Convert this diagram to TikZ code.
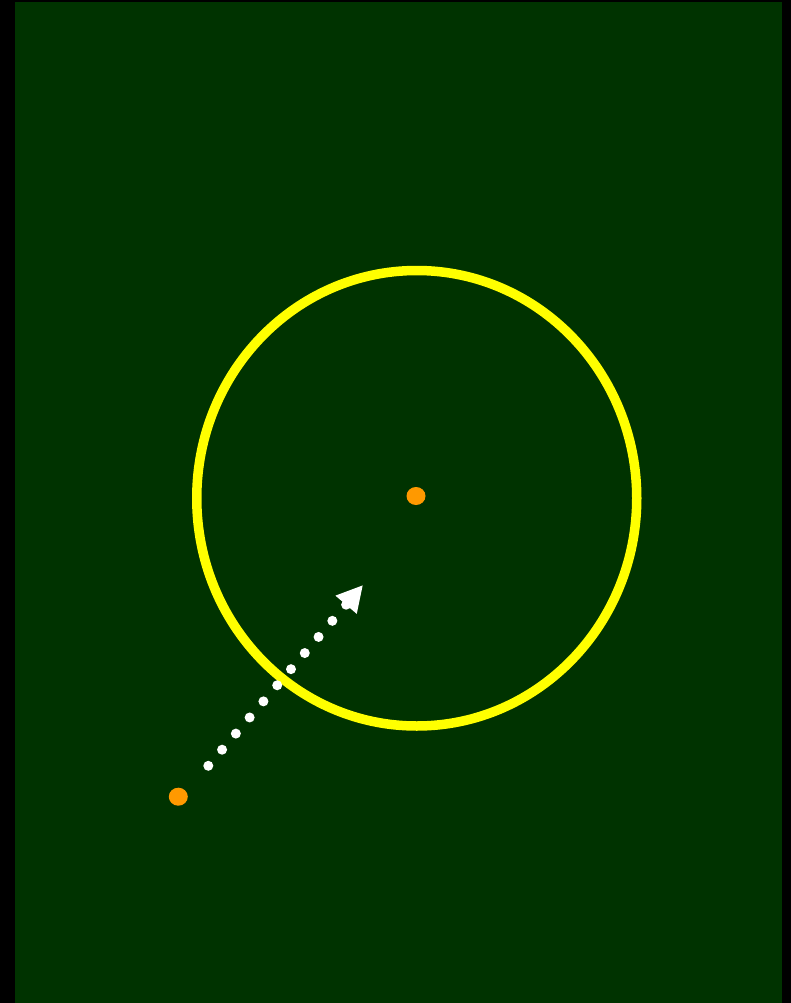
\documentclass[tikz,border=0pt]{standalone}
\usetikzlibrary{arrows.meta}
\definecolor{bggreen}{RGB}{0,51,0}
\definecolor{ringyellow}{RGB}{255,255,0}
\definecolor{dotorange}{RGB}{255,153,0}
\tikzset{
  ring/.style={draw=ringyellow, line width=9.5pt},
  spot/.style={fill=dotorange},
  motion/.style={draw=white, line width=10pt, line cap=round, dash pattern=on 0pt off 21.2pt,
    -{Triangle[length=26pt, width=26pt]}}
}
\begin{document}
\begin{tikzpicture}[x=1pt, y=-1pt]
  \useasboundingbox (0,0) rectangle (791,1003);
  \fill[black] (0,0) rectangle (791,1003);
  \fill[bggreen] (15,2) rectangle (782,1003);
  \draw[ring] (416.75,498.25) ellipse [x radius=220, y radius=227.75];
  \fill[spot] (416,496) ellipse [x radius=9.5, y radius=9];
  \fill[spot] (178.3,796.7) ellipse [x radius=9.5, y radius=9];
  \coordinate (start) at (208.3,765.8);
  \coordinate (tip) at (363,585);
  \draw[motion] (start) -- (tip);
\end{tikzpicture}
\end{document}
